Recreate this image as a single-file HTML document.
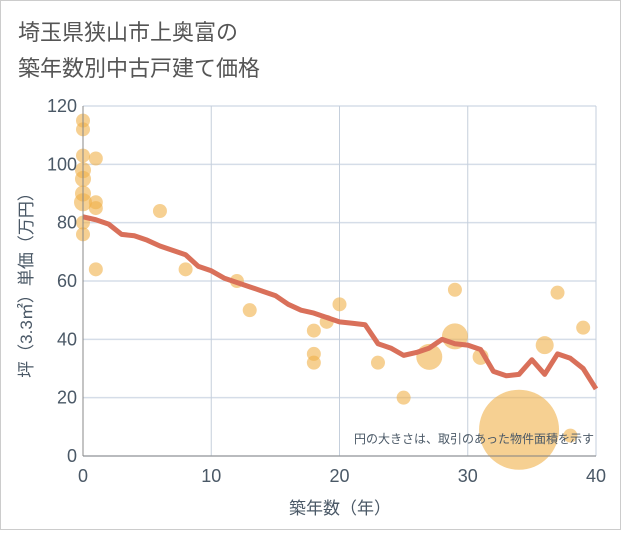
<!DOCTYPE html>
<html><head><meta charset="utf-8"><style>
body{margin:0;background:#fff;}
svg text{font-family:"Liberation Sans","Noto Sans CJK JP",sans-serif;}
</style></head><body>
<svg id="c" width="621" height="530" viewBox="0 0 621 530">
<rect x="0.5" y="0.5" width="620" height="529" fill="#fff" stroke="#ccc"/>
<text x="18" y="40" font-size="22" fill="#555">埼玉県狭山市上奥富の</text>
<text x="18" y="76" font-size="22" fill="#555">築年数別中古戸建て価格</text>
<g id="grid"></g><g id="pts"></g><g id="ln"></g><g id="ax"></g>
<text x="594" y="443" font-size="12" fill="#4a5866" text-anchor="end">円の大きさは、取引のあった物件面積を示す</text>
<text x="340" y="514" font-size="17" fill="#4a5866" text-anchor="middle">築年数（年）</text>
<text transform="translate(32,281) rotate(-90)" font-size="17" fill="#4a5866" text-anchor="middle">坪（3.3㎡）単価（万円）</text>
</svg>
<script>
const xTicks=[0,10,20,30,40];
const yTicks=[0,20,40,60,80,100,120];
const lineYears=[0,1,2,3,4,5,6,7,8,9,10,11,12,13,14,15,16,17,18,19,20,21,22,23,24,25,26,27,28,29,30,31,32,33,34,35,36,37,38,39,40];
const lineValues=[82,81,79.5,76,75.5,74,72,70.5,69,65,63.5,61,59.5,58,56.5,55,52,50,49,47.5,46,45.5,45,38.5,37,34.5,35.5,37,40,38.5,38,36.5,29,27.5,28,33,28,35,33.5,30,23];
const ptX=[0,0,0,1,0,0,0,0,1,1,0,0,1,6,8,12,13,18,18,18,19,20,23,25,27,29,29,31,34,36,37,38,39];
const ptY=[115,112,103,102,98,95,90,87,87,85,80,76,64,84,64,60,50,43,35,32,46,52,32,20,34,57,41,34,9,38,56,7,44];
const ptR=[7,7,7,7,8,8,8,9,7,7,7,7,7,7,7,7,7,7,7,7,7,7,7,7,13,7,13,8,40,9,7,7,7];
const X0=83,X1=596,Y0=456,Y1=106;
const sx=v=>X0+(v-0)/40*(X1-X0), sy=v=>Y0-v/120*(Y0-Y1);
const NS="http://www.w3.org/2000/svg";
function mk(p,t,a){const e=document.createElementNS(NS,t);for(const k in a)e.setAttribute(k,a[k]);document.getElementById(p).appendChild(e);return e;}
yTicks.forEach(v=>{const l=mk('grid','line',{x1:X0,x2:X1,y1:sy(v),y2:sy(v),stroke:'#d5dde8','stroke-width':1.5});


const t=mk('ax','text',{x:X0-6,y:sy(v)+6,'font-size':18,fill:'#4a5866','text-anchor':'end'});t.textContent=v;

});
xTicks.forEach(v=>{const l=mk('grid','line',{x1:sx(v),x2:sx(v),y1:Y1,y2:Y0,stroke:'#c5cfdc','stroke-width':1});


const t=mk('ax','text',{x:sx(v),y:Y0+26,'font-size':18,fill:'#4a5866','text-anchor':'middle'});t.textContent=v;

});
const a1=mk('ax','line',{x1:X0,x2:X0,y1:Y1,y2:Y0,stroke:'#888'});


const a2=mk('ax','line',{x1:X0,x2:X1,y1:Y0,y2:Y0,stroke:'#888'});


ptX.forEach((x,i)=>{const c=mk('pts','circle',{cx:sx(x),cy:sy(ptY[i]),r:ptR[i],fill:'#f0b04a','fill-opacity':0.6});

});
const d=lineYears.map((x,i)=>(i?'L':'M')+sx(x)+','+sy(lineValues[i])).join('');
const p=mk('ln','path',{d:d,fill:'none',stroke:'#d9705a','stroke-width':5,'stroke-linejoin':'round'});


</script>
</body></html>
